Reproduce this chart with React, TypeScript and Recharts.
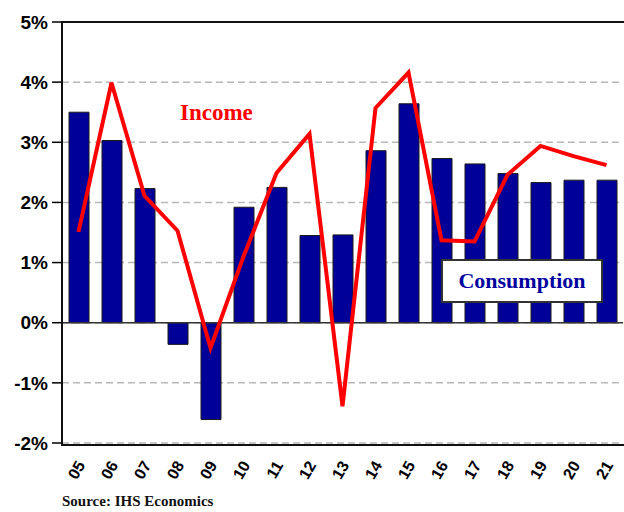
import {
  ComposedChart,
  Bar,
  Line,
  XAxis,
  YAxis,
  CartesianGrid,
  ReferenceLine,
} from 'recharts'

const years = ['05', '06', '07', '08', '09', '10', '11', '12', '13', '14', '15', '16', '17', '18', '19', '20', '21']
const consumption = [3.5, 3.03, 2.23, -0.36, -1.61, 1.92, 2.25, 1.45, 1.46, 2.86, 3.64, 2.73, 2.64, 2.48, 2.33, 2.37, 2.37]
const income = [1.51, 3.99, 2.11, 1.53, -0.42, 1.1, 2.49, 3.14, -1.39, 3.57, 4.16, 1.37, 1.35, 2.46, 2.94, 2.77, 2.62]
const yTicks = [-2, -1, 0, 1, 2, 3, 4, 5]

const data = years.map((y, i) => ({ year: y, consumption: consumption[i], income: income[i] }))

const sans = '"Liberation Sans", Arial, sans-serif'
const serif = '"Liberation Serif", "Times New Roman", serif'

function XTick({ x, y, payload }: { x?: number; y?: number; payload?: { value: string } }) {
  return (
    <g transform={`translate(${(x ?? 0) + 2},${(y ?? 0) + 11})`}>
      <text
        transform="rotate(-60)"
        textAnchor="end"
        dy={6}
        fontFamily={sans}
        fontWeight="bold"
        fontSize={16}
        fill="#000"
      >
        {payload?.value}
      </text>
    </g>
  )
}

export default function App() {
  return (
    <div style={{ position: 'absolute', left: 0, top: 0, width: 624, height: 512, background: '#fff' }}>
      <ComposedChart
        width={624}
        height={512}
        data={data}
        margin={{ top: 22, right: 1, bottom: 0, left: 0 }}
      >
        <CartesianGrid
          vertical={false}
          stroke="#b8b8b8"
          strokeDasharray="7 4"
          strokeWidth={1.5}
        />
        <XAxis
          dataKey="year"
          height={69}
          axisLine={false}
          tickLine={false}
          interval={0}
          tick={<XTick />}
        />
        <YAxis
          domain={[-2, 5]}
          ticks={yTicks}
          width={62}
          axisLine={false}
          tickLine={{ stroke: '#000', strokeWidth: 1.5 }}
          tickSize={10}
          tickMargin={4}
          tickFormatter={(v: number) => `${v}%`}
          tick={{ fontFamily: sans, fontWeight: 'bold', fontSize: 19, fill: '#000' }}
        />
        <ReferenceLine y={0} stroke="#333" strokeWidth={1.5} />
        <Bar
          dataKey="consumption"
          fill="#000099"
          stroke="#1a1a1a"
          strokeWidth={1}
          barSize={20}
          isAnimationActive={false}
        />
        <Line
          type="linear"
          dataKey="income"
          stroke="#ff0000"
          strokeWidth={4}
          dot={false}
          isAnimationActive={false}
        />
      </ComposedChart>

      {/* plot frame */}
      <div
        style={{
          position: 'absolute',
          left: 61,
          top: 21,
          width: 561,
          height: 421,
          border: '2px solid #111',
          borderRight: '1.5px solid #555',
          pointerEvents: 'none',
        }}
      />

      <div
        style={{
          position: 'absolute',
          left: 180,
          top: 99,
          fontFamily: serif,
          fontWeight: 'bold',
          fontSize: 23,
          color: '#ff0000',
          lineHeight: '28px',
        }}
      >
        Income
      </div>

      <div
        style={{
          position: 'absolute',
          left: 441,
          top: 259,
          width: 158,
          height: 40,
          border: '2px solid #333',
          background: '#fff',
          display: 'flex',
          alignItems: 'center',
          justifyContent: 'center',
          fontFamily: serif,
          fontWeight: 'bold',
          fontSize: 22,
          color: '#0000a0',
        }}
      >
        Consumption
      </div>

      <div
        style={{
          position: 'absolute',
          left: 62,
          top: 493,
          fontFamily: serif,
          fontWeight: 'bold',
          fontSize: 15,
          color: '#111',
          lineHeight: '17px',
        }}
      >
        Source: IHS Economics
      </div>
    </div>
  )
}
